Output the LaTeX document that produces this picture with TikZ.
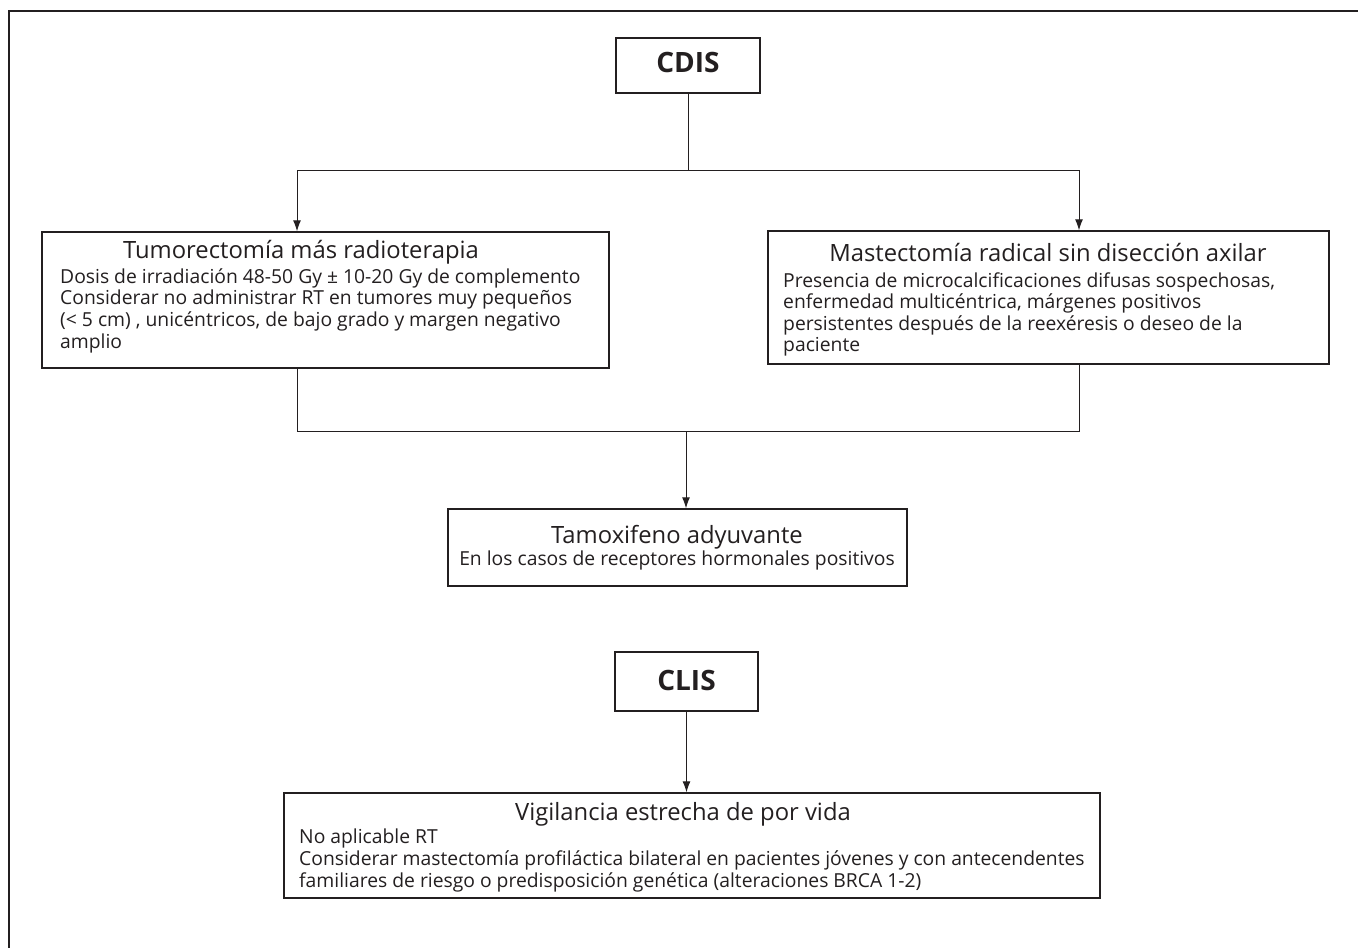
\documentclass[tikz,border=0pt]{standalone}
\usepackage{fontspec}
\setmainfont{Open Sans}
\usetikzlibrary{arrows.meta}
\definecolor{ink}{HTML}{231F20}
\tikzset{
  box/.style={draw=ink, line width=1.4pt, inner sep=0pt, fill=white},
  conn/.style={draw=ink, line width=1pt},
  arr/.style={conn, -{Latex[length=11pt,width=8pt]}},
  ttl/.style={inner sep=0pt, anchor=base, text=ink, font=\fontsize{23.8}{28}\selectfont},
  bdy/.style={inner sep=0pt, anchor=base west, text=ink, font=\fontsize{19.3}{21.5}\selectfont},
  bdyc/.style={inner sep=0pt, anchor=base, text=ink, font=\fontsize{19.3}{21.5}\selectfont},
  big/.style={inner sep=0pt, anchor=base, text=ink, font=\fontsize{28}{32}\selectfont\bfseries},
}
\begin{document}
\begin{tikzpicture}[x=1pt,y=-1pt]
\useasboundingbox (0,0) rectangle (1358,948);
\fill[white] (0,0) rectangle (1358,948);
% outer frame (right and bottom edges lie outside the picture)
\draw[ink, line width=1.5pt] (9,960) -- (9,11) -- (1370,11);

% boxes
\node[box, minimum width=144pt, minimum height=55pt] (cdis) at (688,65.5) {};
\node[box, minimum width=567pt, minimum height=136pt] (tumor) at (325.5,300) {};
\node[box, minimum width=561pt, minimum height=133pt] (mast) at (1048.5,297.5) {};
\node[box, minimum width=459pt, minimum height=77pt] (tamox) at (677.5,547.5) {};
\node[box, minimum width=143pt, minimum height=59pt] (clis) at (686.5,681.5) {};
\node[box, minimum width=816pt, minimum height=105pt] (vig) at (692,845.5) {};

% texts
\node[big] (cdisT) at (688,72) {CDIS};
\node[big] (clisT) at (686.5,690) {CLIS};

\node[ttl] (tuT) at (301,258) {Tumorectomía más radioterapia};
\node[bdy] (tu1) at (60,283) {Dosis de irradiación 48-50 Gy ± 10-20 Gy de complemento};
\node[bdy] (tu2) at (60,304.7) {Considerar no administrar RT en tumores muy pequeños};
\node[bdy] (tu3) at (60,326.4) {(< 5 cm) , unicéntricos, de bajo grado y margen negativo};
\node[bdy] (tu4) at (60,348) {amplio};

\node[ttl] (maT) at (1048,261) {Mastectomía radical sin disección axilar};
\node[bdy] (ma1) at (783,287) {Presencia de microcalcificaciones difusas sospechosas,};
\node[bdy] (ma2) at (783,308.5) {enfermedad multicéntrica, márgenes positivos};
\node[bdy] (ma3) at (783,330) {persistentes después de la reexéresis o deseo de la};
\node[bdy] (ma4) at (783,351.5) {paciente};

\node[ttl] (taT) at (677,543) {Tamoxifeno adyuvante};
\node[bdyc] (ta1) at (677,565) {En los casos de receptores hormonales positivos};

\node[ttl] (viT) at (683,820) {Vigilancia estrecha de por vida};
\node[bdy] (vi1) at (299,843) {No aplicable RT};
\node[bdy] (vi2) at (299,865) {Considerar mastectomía profiláctica bilateral en pacientes jóvenes y con antecendentes};
\node[bdy] (vi3) at (299,887) {familiares de riesgo o predisposición genética (alteraciones BRCA 1-2)};

% connectors
\coordinate (sL) at (297,170);
\coordinate (sR) at (1079,170);
\draw[conn] (cdis.south) -- (cdis.south |- sL);
\draw[conn] (sL) -- (sR);
\draw[arr] (sL) -- (sL |- tumor.north);
\draw[arr] (sR) -- (sR |- mast.north);

\coordinate (mL) at (297,431);
\coordinate (mR) at (1079,431);
\coordinate (mC) at (686,431);
\draw[conn] (mL |- tumor.south) -- (mL) -- (mR) -- (mR |- mast.south);
\draw[arr] (mC) -- (mC |- tamox.north);

\draw[arr] (clis.south) -- (clis.south |- vig.north);
\end{tikzpicture}
\end{document}
